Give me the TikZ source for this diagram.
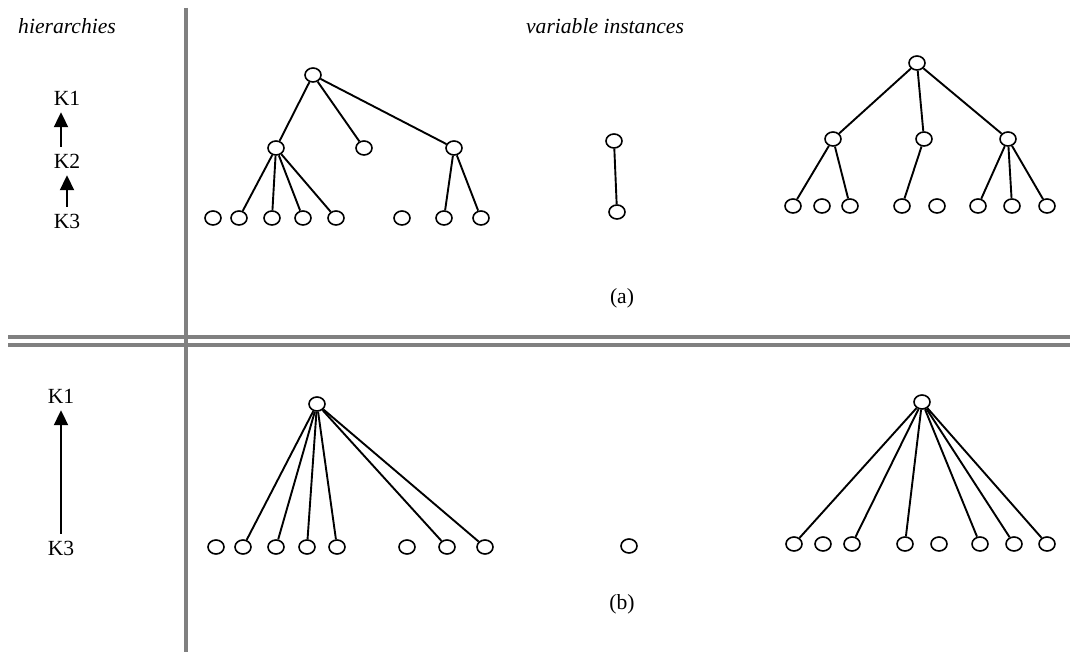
\documentclass[tikz,border=0pt]{standalone}
\usepackage{fontspec}
\setmainfont{Liberation Serif}
\usetikzlibrary{shapes.geometric,arrows.meta}
\begin{document}
\begin{tikzpicture}[
  x=0.5pt, y=-0.5pt,
  vtx/.style={ellipse, draw, line width=0.8pt, minimum width=8pt, minimum height=7pt, inner sep=0pt},
  link/.style={line width=0.95pt},
  sepline/.style={draw=gray, line width=1.6pt},
  hierarrow/.style={-{Triangle[length=7.5pt,width=7pt]}, line width=1pt},
  font=\fontsize{10.8}{13}\selectfont
]
\useasboundingbox (0,0) rectangle (1070,656);

% Frame
\draw[sepline] (8,337) -- (1070,337);
\draw[sepline] (8,345) -- (1070,345);
\draw[sepline] (186,8) -- (186,652);

% Headings
\node (hier) at (67,26) {\itshape hierarchies};
\node (inst) at (605,26) {\itshape variable instances};

% Hierarchies (a)
\node (ka1) at (67,98) {K1};
\node (ka2) at (67,161) {K2};
\node (ka3) at (67,221) {K3};
\draw[hierarrow] ([xshift=-3pt]ka2.north) -- ([xshift=-3pt]ka1.south);
\draw[hierarrow] (ka3) -- (ka2);

% Hierarchies (b)
\node (kb1) at (61,396) {K1};
\node (kb3) at (61,548) {K3};
\draw[hierarrow] (kb3) -- (kb1);

% Left tree (a)
\node[vtx] (la) at (313,75) {};
\node[vtx] (la1) at (276,148) {};
\node[vtx] (la2) at (364,148) {};
\node[vtx] (la3) at (454,148) {};
\foreach \x [count=\i] in {213,239,272,303,336,402,444,481}
  \node[vtx] (lal\i) at (\x,218) {};
\draw[link] (la) -- (la1);
\draw[link] (la) -- (la2);
\draw[link] (la) -- (la3);
\foreach \i in {2,3,4,5}
  \draw[link] (la1) -- (lal\i);
\draw[link] (la3) -- (lal7);
\draw[link] (la3) -- (lal8);

% Middle (a)
\node[vtx] (ma) at (614,141) {};
\node[vtx] (ma1) at (617,212) {};
\draw[link] (ma) -- (ma1);

% Right tree (a)
\node[vtx] (ra) at (917,63) {};
\node[vtx] (ra1) at (833,139) {};
\node[vtx] (ra2) at (924,139) {};
\node[vtx] (ra3) at (1008,139) {};
\foreach \x [count=\i] in {793,822,850,902,937,978,1012,1047}
  \node[vtx] (ral\i) at (\x,206) {};
\draw[link] (ra) -- (ra1);
\draw[link] (ra) -- (ra2);
\draw[link] (ra) -- (ra3);
\draw[link] (ra1) -- (ral1);
\draw[link] (ra1) -- (ral3);
\draw[link] (ra2) -- (ral4);
\foreach \i in {6,7,8}
  \draw[link] (ra3) -- (ral\i);

\node (capa) at (622,298) {(a)};

% Left tree (b)
\node[vtx] (lb) at (317,404) {};
\foreach \x [count=\i] in {216,243,276,307,337,407,447,485}
  \node[vtx] (lbl\i) at (\x,547) {};
\foreach \i in {2,3,4,5,7,8}
  \draw[link] (lb) -- (lbl\i);

% Middle (b)
\node[vtx] (mb) at (629,546) {};

% Right tree (b)
\node[vtx] (rb) at (922,402) {};
\foreach \x [count=\i] in {794,823,852,905,939,980,1014,1047}
  \node[vtx] (rbl\i) at (\x,544) {};
\foreach \i in {1,3,4,6,7,8}
  \draw[link] (rb) -- (rbl\i);

\node (capb) at (622,604) {(b)};

\end{tikzpicture}
\end{document}
